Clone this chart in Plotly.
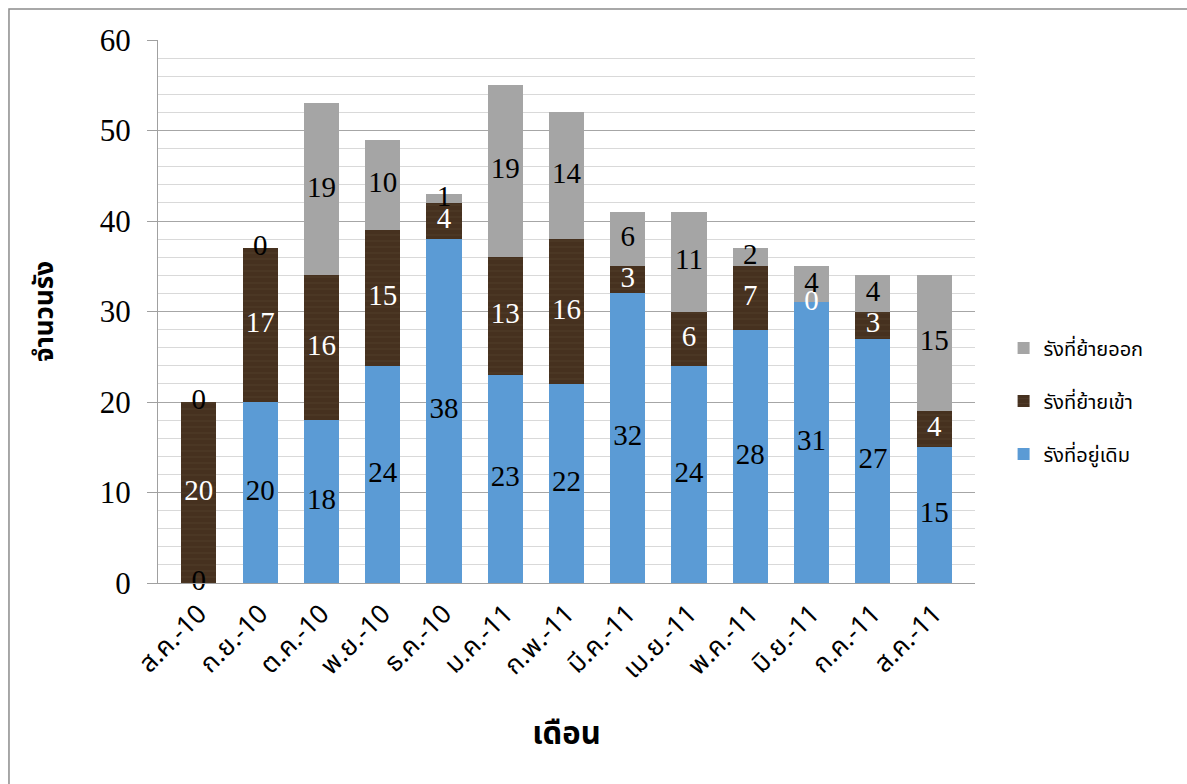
import plotly.graph_objects as go

months = ["ส.ค.-10", "ก.ย.-10", "ต.ค.-10", "พ.ย.-10", "ธ.ค.-10", "ม.ค.-11", "ก.พ.-11",
          "มี.ค.-11", "เม.ย.-11", "พ.ค.-11", "มิ.ย.-11", "ก.ค.-11", "ส.ค.-11"]
existing = [0, 20, 18, 24, 38, 23, 22, 32, 24, 28, 31, 27, 15]
moved_in = [20, 17, 16, 15, 4, 13, 16, 3, 6, 7, 0, 3, 4]
moved_out = [0, 0, 19, 10, 1, 19, 14, 6, 11, 2, 4, 4, 15]

# name, values, fill, label colour, legend rank
series = [
    ("รังที่อยู่เดิม", existing, "#5b9bd5", "black", 3),
    ("รังที่ย้ายเข้า", moved_in, "#46311f", "white", 2),
    ("รังที่ย้ายออก", moved_out, "#a5a5a5", "black", 1),
]

SERIF = "Times New Roman, Liberation Serif, DejaVu Serif, serif"
SANS = "Noto Sans Thai, Noto Sans, DejaVu Sans, sans-serif"

fig = go.Figure()

base = [0] * len(months)
label_x, label_y, label_t, label_c = [], [], [], []
for i, (name, vals, color, txtcol, rank) in enumerate(series):
    marker = dict(color=color, line=dict(width=0))
    if i == 1:
        # wood-grain look for the moved-in segment
        marker["pattern"] = dict(shape="-", fgcolor="#65503e", bgcolor=color,
                                 size=6, solidity=0.12, fillmode="overlay")
    fig.add_trace(go.Bar(
        x=months, y=vals, name=name, marker=marker,
        legendgroup=f"g{i}", legendrank=rank, hoverinfo="skip",
    ))
    for m, b, v in zip(months, base, vals):
        label_x.append(m)
        label_y.append(b + v / 2)
        label_t.append(str(v))
        label_c.append(txtcol)
    base = [b + v for b, v in zip(base, vals)]

# value labels centred on each segment
fig.add_trace(go.Scatter(
    x=label_x, y=label_y, text=label_t, mode="text",
    textposition="middle center",
    textfont=dict(family=SERIF, size=29, color=label_c),
    showlegend=False, cliponaxis=False, hoverinfo="skip",
))

fig.update_layout(
    barmode="stack",
    bargap=0.427,
    width=1187, height=784,
    margin=dict(l=158, r=212, t=40, b=201),
    paper_bgcolor="white",
    plot_bgcolor="white",
    showlegend=True,
    legend=dict(
        x=1.035, y=0.335, xanchor="left", yanchor="middle",
        traceorder="grouped", tracegroupgap=24,
        font=dict(family=SANS, size=20, color="black"),
        itemwidth=30,
    ),
    xaxis=dict(
        tickangle=-45,
        tickfont=dict(family=SANS, size=26, color="black"),
        showline=True, linecolor="#a0a0a0", linewidth=1,
        ticks="",
        ticklabelstandoff=4,
        title=dict(text="<b>เดือน</b>", font=dict(family=SANS, size=31, color="black"),
                   standoff=34),
    ),
    yaxis=dict(
        range=[0, 60], dtick=10,
        tickfont=dict(family=SERIF, size=31, color="black"),
        showline=True, linecolor="#a0a0a0", linewidth=1,
        ticks="outside", ticklen=10, tickcolor="#a0a0a0",
        ticklabelstandoff=10,
        showgrid=True, gridcolor="#a6a6a6", gridwidth=1,
        minor=dict(dtick=2, showgrid=True, gridcolor="#d9d9d9", gridwidth=1, ticks=""),
        zeroline=False,
        title=dict(text="<b>จำนวนรัง</b>", font=dict(family=SANS, size=26, color="black"),
                   standoff=38),
    ),
    shapes=[dict(
        type="rect", xref="paper", yref="paper",
        x0=-0.1824, y0=-0.6, x1=1.4, y1=1.057,
        line=dict(color="#8c8c8c", width=1.5), fillcolor="rgba(0,0,0,0)",
        layer="below",
    )],
)

fig.write_html("out.html")
